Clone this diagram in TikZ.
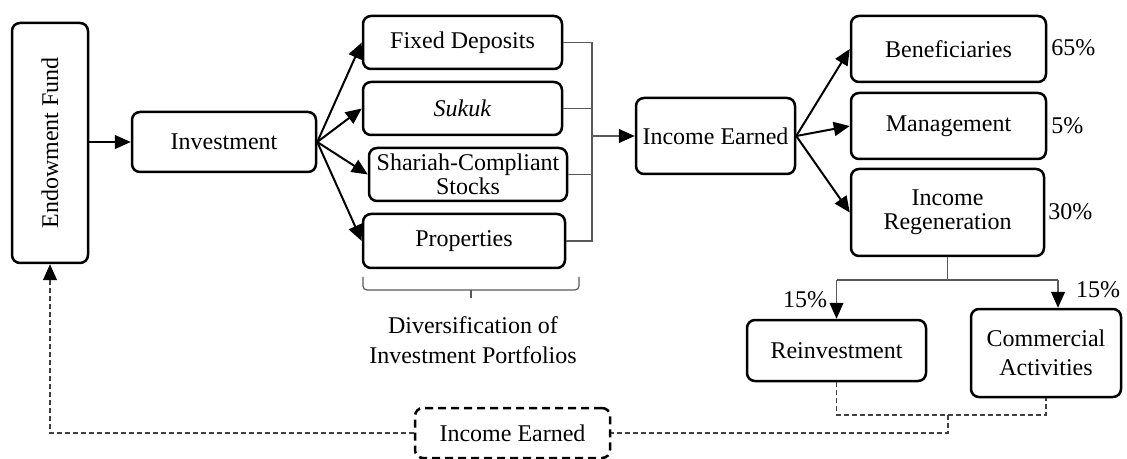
\documentclass[tikz,border=0pt]{standalone}
\usepackage{fontspec}
\setmainfont{Liberation Serif}
\usetikzlibrary{arrows.meta,calc}
\begin{document}
\begin{tikzpicture}[x=0.5pt,y=-0.5pt,
  font=\fontsize{12}{12}\selectfont,
  box/.style={draw, line width=1.25pt, rounded corners=4pt, align=center, inner sep=0pt},
  dbox/.style={box, dash pattern=on 4pt off 2.5pt},
  arr/.style={-{Triangle[length=8pt,width=7pt]}, line width=1pt},
  thinarr/.style={-{Triangle[length=8pt,width=7pt,color=black]}, line width=0.6pt},
  brk/.style={draw=black!65, line width=0.6pt},
  dsh/.style={draw=black!75, dash pattern=on 2.5pt off 1.5pt, line width=0.6pt},
  pct/.style={inner sep=0pt, anchor=west}
]
\useasboundingbox (0,0) rectangle (1127,459);

% nodes
\node[box, minimum width=38pt, minimum height=120pt] (endow) at (50,143) {\rotatebox{90}{Endowment Fund}};
\node[box, minimum width=92pt, minimum height=30pt] (inv) at (224,142) {Investment};
\node[box, minimum width=99.5pt, minimum height=26.5pt] (fd) at (462.5,42.5) {Fixed Deposits};
\node[box, minimum width=99.5pt, minimum height=26.5pt] (sukuk) at (462.5,108.5) {\textit{Sukuk}};
\node[box, minimum width=99pt, minimum height=26.5pt] (shariah) at (468,174.5) {Shariah-Compliant\\Stocks};
\node[box, minimum width=101pt, minimum height=27pt] (prop) at (464,241) {Properties};
\node[box, minimum width=79.5pt, minimum height=38pt] (ie) at (715.5,136) {Income Earned};
\node[box, minimum width=97.5pt, minimum height=33pt] (ben) at (948.5,49) {Beneficiaries};
\node[box, minimum width=97.5pt, minimum height=33pt] (man) at (948.5,126) {Management};
\node[box, minimum width=96.5pt, minimum height=43.5pt] (reg) at (947.5,212.5) {Income\\Regeneration};
\node[box, minimum width=89.5pt, minimum height=30.5pt] (reinv) at (836.5,350.5) {Reinvestment};
\node[box, minimum width=75pt, minimum height=44pt, font=\fontsize{12}{14.5}\selectfont] (comm) at (1046,353) {Commercial\\Activities};
\node[dbox, minimum width=97.5pt, minimum height=25pt] (ie2) at (512.5,433) {Income Earned};

% percent labels
\node[pct] (p65) at (1051,48) {65\%};
\node[pct] (p5) at (1051,126) {5\%};
\node[pct] (p30) at (1048,212) {30\%};
\node[inner sep=0pt] (p15a) at (805,300) {15\%};
\node[inner sep=0pt] (p15b) at (1098,290) {15\%};

\node[align=center, font=\fontsize{12}{15}\selectfont] (divtext) at (473,340) {Diversification of\\Investment Portfolios};

% main arrows
\draw[thinarr] (endow.east |- inv.west) -- (inv.west);
\foreach \t in {fd,sukuk,shariah,prop}
  \draw[arr] (inv.east) -- (\t.west);
\foreach \t in {ben,man,reg}
  \draw[arr] (ie.east) -- (\t.west);

% bracket
\coordinate (bt) at (592,42.5);
\draw[brk] (fd.east) -- (fd.east -| bt) -- (prop.east -| bt) -- (prop.east);
\draw[brk] (sukuk.east) -- (sukuk.east -| bt);
\draw[brk] (shariah.east) -- (shariah.east -| bt);
\draw[thinarr, draw=black!65] (ie.west -| bt) -- (ie.west);

% brace under portfolios
\coordinate (brl) at (363,277);
\coordinate (brr) at (579,277);
\draw[brk, rounded corners=2pt] (brl) -- (363,290) -- (579,290) -- (brr);
\draw[brk] (471,290) -- (471,298);

% regeneration split
\coordinate (sp) at (947.5,280);
\coordinate (cr) at ($(comm.north)+(12,0)$);
\draw[brk] (reg.south) -- (sp);
\draw[brk] (reinv.north |- sp) -- (cr |- sp);
\draw[thinarr, draw=black!65] (reinv.north |- sp) -- (reinv.north);
\draw[thinarr, draw=black!65] (cr |- sp) -- (cr);

% dashed return
\coordinate (dj) at (948,415);
\draw[dsh] (reinv.south) -- (reinv.south |- dj) -- (comm.south |- dj) -- (comm.south);
\draw[dsh] (dj) -- (dj |- ie2.east) -- (ie2.east);
\draw[dsh, -{Triangle[length=8pt,width=7pt,color=black]}] (ie2.west) -- (ie2.west -| endow.south) -- (endow.south);
\end{tikzpicture}
\end{document}
